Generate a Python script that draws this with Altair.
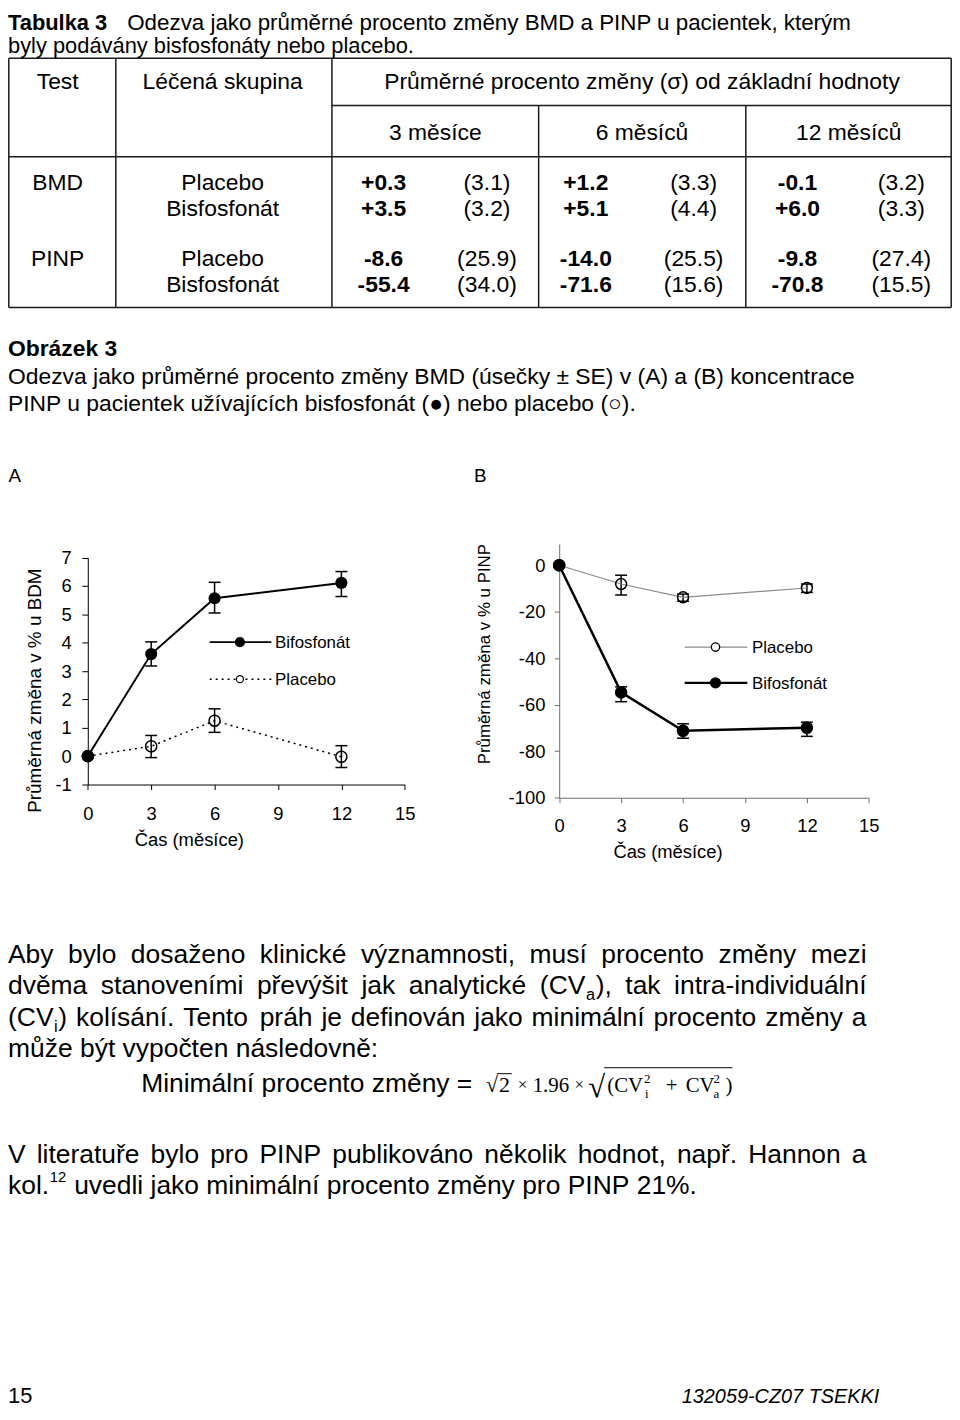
import re
import altair as alt
import pandas as pd

SANS = "Liberation Sans"
SERIF = "Liberation Serif"

# ---------------- data ----------------
months = [0, 3, 6, 12]
series_names = ["Bifosfonát", "Placebo"]
panel_labels = ["A", "B"]

bmd_bis_mean = [0.0, 3.60, 5.57, 6.11]
bmd_bis_lo = [None, 3.18, 5.05, 5.63]
bmd_bis_hi = [None, 4.03, 6.13, 6.51]
bmd_pla_mean = [0.0, 0.35, 1.25, -0.02]
bmd_pla_lo = [None, -0.05, 0.84, -0.40]
bmd_pla_hi = [None, 0.73, 1.67, 0.37]

pinp_bis_mean = [0.0, -54.7, -71.2, -69.9]
pinp_bis_lo = [None, -58.7, -74.4, -73.6]
pinp_bis_hi = [None, -52.3, -68.2, -67.5]
pinp_pla_mean = [0.0, -8.1, -13.8, -9.8]
pinp_pla_lo = [None, -12.8, -15.5, -11.7]
pinp_pla_hi = [None, -4.3, -12.4, -8.1]

x_ticks = [0, 3, 6, 9, 12, 15]
bmd_ticks = [-1, 0, 1, 2, 3, 4, 5, 6, 7]
pinp_ticks = [-100, -80, -60, -40, -20, 0]

x_title = "Čas (měsíce)"
bmd_title = "Průměrná změna v % u BDM"
pinp_title = "Průměrná změna v % u PINP"

# table
tab_header = ["Test", "Léčená skupina", "Průměrné procento změny (σ) od základní hodnoty"]
tab_periods = ["3 měsíce", "6 měsíců", "12 měsíců"]
tab_tests = ["BMD", "PINP"]
tab_groups = ["Placebo", "Bisfosfonát"]
tab_bmd_placebo_mean = [0.3, 1.2, -0.1]
tab_bmd_placebo_sd = [3.1, 3.3, 3.2]
tab_bmd_bis_mean = [3.5, 5.1, 6.0]
tab_bmd_bis_sd = [3.2, 4.4, 3.3]
tab_pinp_placebo_mean = [-8.6, -14.0, -9.8]
tab_pinp_placebo_sd = [25.9, 25.5, 27.4]
tab_pinp_bis_mean = [-55.4, -71.6, -70.8]
tab_pinp_bis_sd = [34.0, 15.6, 15.5]

# texts
title_bold = "Tabulka 3"
title_line1 = "Odezva jako průměrné procento změny BMD a PINP u pacientek, kterým"
title_line2 = "byly podávány bisfosfonáty nebo placebo."
fig_label = "Obrázek 3"
fig_caption = [
    "Odezva jako průměrné procento změny BMD (úsečky ± SE) v (A) a (B) koncentrace",
    "PINP u pacientek užívajících bisfosfonát (●) nebo placebo (○).",
]
para1 = [
    ("Aby bylo dosaženo klinické významnosti, musí procento změny mezi", True),
    ("dvěma stanoveními převýšit jak analytické (CV_a), tak intra-individuální", True),
    ("(CV_i) kolísání. Tento práh je definován jako minimální procento změny a", True),
    ("může být vypočten následovně:", False),
]
formula_lhs = "Minimální procento změny ="
para2 = [
    ("V literatuře bylo pro PINP publikováno několik hodnot, např. Hannon a", True),
    ("kol.^12 uvedli jako minimální procento změny pro PINP 21%.", False),
]
footer_page = "15"
footer_id = "132059-CZ07 TSEKKI"

# ---------------- text metrics (Arial / Liberation Sans) ----------------
W = {' ': 278, '!': 278, '%': 889, '(': 333, ')': 333, ',': 278, '-': 333, '.': 278, ':': 278,
     '=': 584, '+': 584}
for c in "0123456789":
    W[c] = 556
W.update(dict(A=667, B=667, C=722, D=722, E=667, F=611, G=778, H=722, I=278, J=500, K=667, L=556,
              M=833, N=722, O=778, P=667, Q=778, R=722, S=667, T=611, U=722, V=667, W=944, X=667,
              Y=667, Z=611, a=556, b=556, c=500, d=556, e=556, f=278, g=556, h=556, i=222, j=222,
              k=500, l=222, m=833, n=556, o=556, p=556, q=556, r=333, s=500, t=278, u=556, v=500,
              w=722, x=500, y=500, z=500))
W.update({'á': 556, 'é': 556, 'í': 278, 'ó': 556, 'ú': 556, 'ý': 500, 'ů': 556, 'ě': 556,
          'č': 500, 'ř': 333, 'š': 500, 'ž': 500, 'ň': 556})


def tw(s, size):
    return sum(W.get(c, 556) for c in s) * size / 1000.0


def segs(word, size):
    out = []
    for part in re.split(r"(_\w|\^\d+)", word):
        if not part:
            continue
        if part.startswith("_"):
            out.append((part[1:], size * 0.62, 6, 1.2))
        elif part.startswith("^"):
            out.append((part[1:], size * 0.56, -11.5, 1.2))
        else:
            out.append((part, size, 0, 0))
    return out


def layout_line(text, x0, y, size, width=None):
    words = [segs(w, size) for w in text.split(" ")]
    wl = [sum(tw(t, s) + pad for t, s, d, pad in w) for w in words]
    gap = tw(" ", size) if width is None else (width - sum(wl)) / (len(words) - 1)
    items, x = [], x0
    for w, l in zip(words, wl):
        xx = x
        for t, s, d, pad in w:
            items.append((xx + pad / 2, y + d, t, s))
            xx += tw(t, s) + pad
        x += l + gap
    return items


# ---------------- helpers (positions are view pixels = page pixels - 8) ----------------
def txt(items, font=SANS, weight="normal", style="normal", align="left", baseline="alphabetic"):
    df = pd.DataFrame(items, columns=["x", "y", "t", "s"])
    return alt.Chart(df).mark_text(font=font, fontWeight=weight, fontStyle=style, align=align,
                                   baseline=baseline, color="black").encode(
        x=alt.X("x:Q", scale=None, axis=None),
        y=alt.Y("y:Q", scale=None, axis=None),
        text=alt.Text("t:N"),
        size=alt.Size("s:Q", scale=None, legend=None),
    )


def rules(items, color="#1a1a1a", width=1.5):
    df = pd.DataFrame(items, columns=["x", "y", "x2", "y2"])
    return alt.Chart(df).mark_rule(color=color, strokeWidth=width).encode(
        x=alt.X("x:Q", scale=None, axis=None), y=alt.Y("y:Q", scale=None, axis=None),
        x2="x2:Q", y2="y2:Q")


ONE = pd.DataFrame({"k": [0]})


def vtext(t, x, y, size, align="left", baseline="alphabetic"):
    return alt.Chart(pd.DataFrame({"t": [t]})).mark_text(
        font=SANS, fontSize=size, align=align, baseline=baseline, color="black").encode(
        x=alt.value(x), y=alt.value(y), text="t:N")


def vrule(x, x2, y, color="black", width=1.5, dash=None):
    kw = dict(color=color, strokeWidth=width)
    if dash:
        kw["strokeDash"] = dash
    return alt.Chart(ONE).mark_rule(**kw).encode(x=alt.value(x), x2=alt.value(x2), y=alt.value(y))


def vpoint(x, y, size, filled, sw=1.3):
    kw = dict(shape="circle", size=size, opacity=1, stroke="black", strokeWidth=sw)
    kw["fill"] = "black" if filled else "white"
    return alt.Chart(ONE).mark_point(filled=True, **kw).encode(x=alt.value(x), y=alt.value(y))


def fmt_mean(v):
    return f"{v:+.1f}"


def fmt_sd(v):
    return f"({v:.1f})"


VIEW_W, VIEW_H = 950, 1400

# ---------------- top block: table title, table, caption ----------------
bold_left = [(0, 18, title_bold, 22), (0, 346, fig_label, 23)]
norm_left = [(120, 18, title_line1, 22.5), (0, 41, title_line2, 22),
             (0, 373.7, fig_caption[0], 23), (0, 401, fig_caption[1], 23)]

TS = 23
head_c = [50, 216, 638]
period_c = [430, 638, 846]
mean_c = [378, 581.5, 794.5]
sd_c = [482, 690, 899]
row_y = [179, 205, 255, 281]

norm_center = [(head_c[i], 77, tab_header[i], TS) for i in range(3)]
norm_center += [(period_c[i], 128, tab_periods[i], TS) for i in range(3)]
norm_center += [(head_c[0], row_y[0], tab_tests[0], TS), (head_c[0], row_y[2], tab_tests[1], TS)]
for r in range(4):
    norm_center.append((head_c[1], row_y[r], tab_groups[r % 2], TS))

rows_mean = [tab_bmd_placebo_mean, tab_bmd_bis_mean, tab_pinp_placebo_mean, tab_pinp_bis_mean]
rows_sd = [tab_bmd_placebo_sd, tab_bmd_bis_sd, tab_pinp_placebo_sd, tab_pinp_bis_sd]
bold_center = []
for r in range(4):
    for c in range(3):
        bold_center.append((mean_c[c], row_y[r], fmt_mean(rows_mean[r][c]), TS))
        norm_center.append((sd_c[c], row_y[r], fmt_sd(rows_sd[r][c]), TS))

TOP, SUB, HB, BOT = 46, 93.7, 145.3, 297
L, C1, C2, C3, C4, R = 0.8, 108.5, 326, 534, 742.5, 949.2
table_lines = [
    (L, TOP, R, TOP), (C2, SUB, R, SUB), (L, HB, R, HB), (L, BOT, R, BOT),
    (L, TOP, L, BOT), (C1, TOP, C1, BOT), (C2, TOP, C2, BOT),
    (C3, SUB, C3, BOT), (C4, SUB, C4, BOT), (R, TOP, R, BOT),
]

# ---------------- bottom block: paragraphs, formula, footer ----------------
OY = 872
PS = 26.6
LW = 864
para_items = []
for (line, just), y in zip(para1, [85, 116.3, 147.6, 178.9]):
    para_items += layout_line(line, 0, OY + y, PS, LW if just else None)
for (line, just), y in zip(para2, [285.4, 316.7]):
    para_items += layout_line(line, 0, OY + y, PS, LW if just else None)
para_items.append((134, OY + 214, formula_lhs, PS))
para_items.append((0, 1399, footer_page, 22))

formula_items = [
    ("√", 481, 214, 22), ("2", 494, 214, 22),
    ("×", 513, 212, 17), ("1.96", 528, 214, 21), ("×", 570, 212, 17),
    ("√", 584, 219, 31),
    ("(CV", 603, 214, 21), ("2", 640, 205, 13), ("i", 641, 220, 13),
    ("+", 662, 214, 21), ("CV", 682, 214, 21), ("2", 710, 205, 13), ("a", 710, 220, 13),
    (")", 722, 214, 21),
]
formula_items = [(x, OY + y, t, s) for t, x, y, s in formula_items]
overbars = [(492, OY + 196, 507, OY + 196), (600, OY + 190, 729, OY + 190)]


# ---------------- charts ----------------
def make_df(mean, lo, hi, name):
    return pd.DataFrame({"series": name, "month": months, "mean": mean, "lo": lo, "hi": hi})


def series_layers(df, xs, ys, ax_x, ax_y, line_kw, filled, psize, cap=12):
    base = alt.Chart(df)
    X = alt.X("month:Q", scale=xs, axis=ax_x)
    e = alt.Chart(df.dropna())
    err = e.mark_rule(color="black", strokeWidth=1.5).encode(
        x=X, y=alt.Y("lo:Q", scale=ys, axis=ax_y), y2="hi:Q")
    lo = e.mark_tick(orient="horizontal", size=cap, thickness=1.5, color="black", opacity=1).encode(
        x=X, y=alt.Y("lo:Q", scale=ys, axis=ax_y))
    hi = e.mark_tick(orient="horizontal", size=cap, thickness=1.5, color="black", opacity=1).encode(
        x=X, y=alt.Y("hi:Q", scale=ys, axis=ax_y))
    line = base.mark_line(**line_kw).encode(x=X, y=alt.Y("mean:Q", scale=ys, axis=ax_y))
    if filled:
        pts = base.mark_point(shape="circle", filled=True, size=psize, color="black", opacity=1)
    else:
        pts = base.mark_point(shape="circle", filled=False, size=psize, color="black",
                              strokeWidth=1.5, opacity=1)
    pts = pts.encode(x=X, y=alt.Y("mean:Q", scale=ys, axis=ax_y))
    return [err, lo, hi, line], pts


def axis(orient, offset, values, title, color, tick, pad, tsize, tx, ty, lsize=18.5):
    return alt.Axis(orient=orient, offset=offset, values=values, title=title, grid=False,
                    domain=True, domainColor=color, domainWidth=1, tickColor=color, tickWidth=1,
                    tickSize=tick, labelPadding=pad, labelFont=SANS, labelFontSize=lsize,
                    labelColor="black", labelFlush=False, labelOverlap=False,
                    labelExpr="'' + datum.value",
                    titleFont=SANS, titleFontSize=tsize, titleFontWeight="normal",
                    titleColor="black", titleX=tx, titleY=ty, titleAlign="center",
                    titleBaseline="middle")


# ---- A: BMD ----
A_x0, A_x1, A_yb, A_yt = 80.3, 399.3, 777, 548.7
xsA = alt.Scale(domain=[0, 15], range=[A_x0, A_x1], nice=False, zero=False)
ysA = alt.Scale(domain=[-1, 7], range=[A_yb, A_yt], nice=False, zero=False)
axAx = axis("bottom", A_yb - VIEW_H, x_ticks, x_title, "black", 5, 15, 18.5, 182, 55)
axAy = axis("left", -A_x0, bmd_ticks, bmd_title, "black", 6, 10.6, 19, -53.3, 682)
dA_bis = make_df(bmd_bis_mean, bmd_bis_lo, bmd_bis_hi, series_names[0])
dA_pla = make_df(bmd_pla_mean, bmd_pla_lo, bmd_pla_hi, series_names[1])
bisA, bisA_pts = series_layers(dA_bis, xsA, ysA, axAx, axAy, dict(color="black", strokeWidth=2),
                               True, 150)
plaA, plaA_pts = series_layers(dA_pla, xsA, ysA, axAx, axAy,
                               dict(color="black", strokeWidth=1.5, strokeDash=[2, 4]), False, 125)
chartA = alt.layer(
    *bisA, *plaA, plaA_pts, bisA_pts,
    vrule(203, 265, 633.7, width=2), vpoint(233.4, 633.7, 80, True),
    vtext(series_names[0], 268.7, 640, 17),
    vrule(203, 265, 671, width=1.5, dash=[2, 4]), vpoint(233.4, 671, 50, False, 1.2),
    vtext(series_names[1], 268.7, 677, 17),
    vtext(panel_labels[0], 0.5, 473, 19),
)

# ---- B: PINP ----
B_x0, B_x1, B_yb, B_yt = 554.7, 866.3, 790.3, 535
GREY = "#6e6e6e"
xsB = alt.Scale(domain=[0, 15], range=[B_x0, B_x1], nice=False, zero=False)
ysB = alt.Scale(domain=[-100, 9.1], range=[B_yb, B_yt], nice=False, zero=False)
axBx = axis("bottom", B_yb - VIEW_H, x_ticks, x_title, GREY, 5, 13.7, 18.5, 663.7, 54.4)
axBy = axis("left", -B_x0, pinp_ticks, pinp_title, GREY, 5, 9.4, 17, -75.4, 645.3)
dB_bis = make_df(pinp_bis_mean, pinp_bis_lo, pinp_bis_hi, series_names[0])
dB_pla = make_df(pinp_pla_mean, pinp_pla_lo, pinp_pla_hi, series_names[1])
plaB, plaB_pts = series_layers(dB_pla, xsB, ysB, axBx, axBy,
                               dict(color="#8a8a8a", strokeWidth=1.2), False, 120)
bisB, bisB_pts = series_layers(dB_bis, xsB, ysB, axBx, axBy,
                               dict(color="black", strokeWidth=2.5), True, 160)
chartB = alt.layer(
    *plaB, *bisB, plaB_pts, bisB_pts,
    vrule(681, 744, 638.7, color="#8a8a8a", width=1.2), vpoint(712, 638.7, 70, False, 1.3),
    vtext(series_names[1], 748.7, 645, 17),
    vrule(681, 744, 674.7, width=2.5), vpoint(712, 674.7, 100, True),
    vtext(series_names[0], 748.7, 681, 17),
    vtext(panel_labels[1], 469, 473, 19),
)

chart = alt.layer(
    rules(table_lines),
    txt(bold_left, weight="bold"),
    txt(norm_left),
    txt(norm_center, align="center"),
    txt(bold_center, weight="bold", align="center"),
    txt(para_items),
    txt(formula_items, font=SERIF),
    rules(overbars, color="black", width=1),
    txt([(678, 1399, footer_id, 20)], style="italic"),
    chartA,
    chartB,
).resolve_scale(x="independent", y="independent").resolve_axis(
    x="independent", y="independent"
).properties(width=VIEW_W, height=VIEW_H, padding=0, background="white").configure_view(stroke=None)

chart.save("out.html", embed_options={"renderer": "svg", "actions": False})
